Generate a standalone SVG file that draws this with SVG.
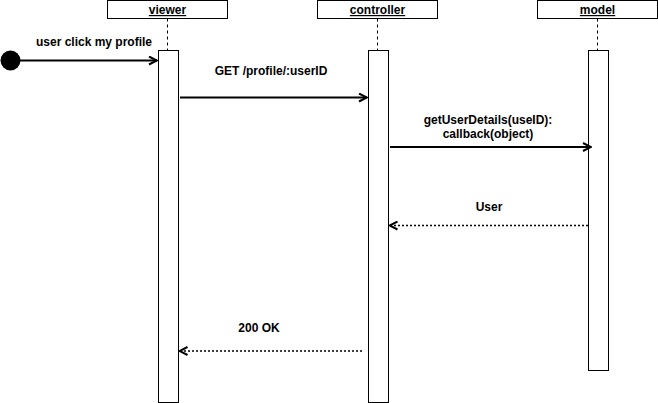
<svg xmlns="http://www.w3.org/2000/svg" width="658" height="403" viewBox="0 0 658 403">
<style>
.box{fill:#fff;stroke:#000;stroke-width:1}
.life{stroke:#000;stroke-width:1;stroke-dasharray:3 3;fill:none}
.t{font-family:"Liberation Sans",Arial,sans-serif;font-size:12px;font-weight:bold;fill:#000;text-anchor:middle}
.hd{text-decoration:underline}
.msg{stroke:#000;stroke-width:2;fill:none}
.ret{stroke:#000;stroke-width:1.5;stroke-dasharray:2 2;fill:none}
</style>
<defs>
<marker id="open" viewBox="0 0 10 10" refX="9" refY="5" markerWidth="10" markerHeight="10" markerUnits="userSpaceOnUse" orient="auto">
<path d="M1,1 L9,5 L1,9" fill="none" stroke="#000" stroke-width="2"/>
</marker>
</defs>
<rect width="658" height="403" fill="#fff"/>
<g id="viewer">
<rect class="box" x="107.5" y="0.5" width="120" height="18"/>
<text class="t hd" x="167.5" y="14">viewer</text>
<line class="life" x1="167.5" y1="18.5" x2="167.5" y2="50.5"/>
<rect class="box" x="158.5" y="50.5" width="20" height="352"/>
</g>
<g id="controller">
<rect class="box" x="317.5" y="0.5" width="120" height="18"/>
<text class="t hd" x="377.5" y="14">controller</text>
<line class="life" x1="377.5" y1="18.5" x2="377.5" y2="50.5"/>
<rect class="box" x="368.5" y="50.5" width="20" height="352"/>
</g>
<g id="model">
<rect class="box" x="537.5" y="0.5" width="120" height="18"/>
<text class="t hd" x="597.5" y="14">model</text>
<line class="life" x1="597.5" y1="18.5" x2="597.5" y2="50.5"/>
<rect class="box" x="588.5" y="50.5" width="20" height="320"/>
</g>
<g id="start">
<circle cx="10.5" cy="60.5" r="10" fill="#000"/>
</g>
<g id="connectors">
<line class="msg" x1="20" y1="60.5" x2="157" y2="60.5" marker-end="url(#open)"/>
<line class="msg" x1="180" y1="97.5" x2="367" y2="97.5" marker-end="url(#open)"/>
<line class="msg" x1="390" y1="147" x2="591" y2="147" marker-end="url(#open)"/>
<line class="ret" x1="588" y1="225.5" x2="389.5" y2="225.5" marker-end="url(#open)"/>
<line class="ret" x1="362" y1="351" x2="179.5" y2="351" marker-end="url(#open)"/>
</g>
<g id="labels">
<text class="t" x="94" y="46">user click my profile</text>
<text class="t" x="271" y="75">GET /profile/:userID</text>
<text class="t" x="488" y="124">getUserDetails(useID):</text>
<text class="t" x="488" y="138">callback(object)</text>
<text class="t" x="489" y="211">User</text>
<text class="t" x="259" y="332">200 OK</text>
</g>
</svg>
